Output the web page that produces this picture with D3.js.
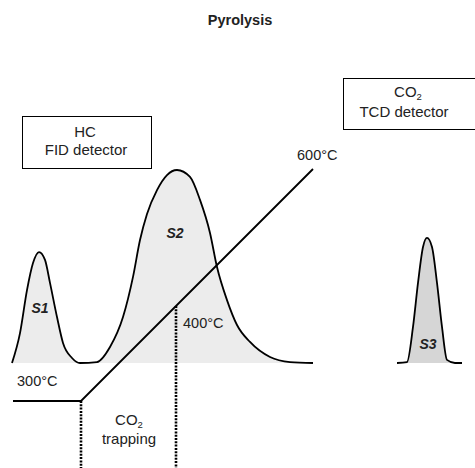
<!DOCTYPE html>
<html><head><meta charset="utf-8">
<script src="https://cdn.jsdelivr.net/npm/d3@7"></script>
<style>body{margin:0;background:#fff}svg{display:block;font-family:"Liberation Sans",Arial,sans-serif}</style>
</head><body><script>
// Data (time in arbitrary units, FID/TCD signal in % of S2 peak)
const hcTime   = [1.2,2.0,2.7,3.3,3.9,4.5,5.0,5.7,6.3,7.2,8.0,9.7,11.0,12.3,13.3,14.0,14.7,15.7,16.7,17.7,19.0,20.0,21.0,21.7,22.7,23.7,25.0,27.0,29.0,31.3];
const hcSignal = [0,15.5,37.8,51.8,57.5,53.4,41.5,23.8,10.4,2.6,0,0.5,8.3,23.8,44.6,63.7,77.2,89.6,97.4,100,96.4,84.5,67.4,49.7,32.6,19.7,10.9,3.1,0.5,0];
const co2Time   = [39.7,40.7,41.3,41.8,42.3,42.7,43.2,43.7,44.2,44.7,45.5,46.2];
const co2Signal = [0,0.5,18.7,41.5,60.1,64.8,60.1,41.5,18.7,1.6,0,0];
const tempTime = [1.3,8.1,31.3];
const tempC    = [300,300,600];
const markerTimes = [8.1,17.6];
const peakLabels = [{name:"S1",t:4.0,s:26},{name:"S2",t:17.5,s:65},{name:"S3",t:42.8,s:7}];
const tempLabels = [{text:"300°C",t:1.7,c:320},{text:"400°C",t:18.3,c:394},{text:"600°C",t:29.7,c:612}];

const W=475,H=468;
const svg=d3.select("body").append("svg").attr("width",W).attr("height",H);
const x=d3.scaleLinear().domain([0,47.5]).range([0,475]);
const y=d3.scaleLinear().domain([0,100]).range([363,170]);
const yT=d3.scaleLinear().domain([300,600]).range([401,169]);

// Title
svg.append("text").attr("x",240).attr("y",25).attr("text-anchor","middle")
  .attr("font-size",14.5).attr("font-weight","bold").attr("fill","#222").text("Pyrolysis");

// Peaks
const hc=hcTime.map((t,i)=>({t,s:hcSignal[i]}));
const co=co2Time.map((t,i)=>({t,s:co2Signal[i]}));
const area=d3.area().x(d=>x(d.t)).y0(y(0)).y1(d=>y(d.s)).curve(d3.curveMonotoneX);
const line=d3.line().x(d=>x(d.t)).y(d=>y(d.s)).curve(d3.curveMonotoneX);
svg.append("path").datum(hc).attr("d",area).attr("fill","#ececec");
svg.append("path").datum(co).attr("d",area).attr("fill","#d6d6d6");
svg.append("path").datum(hc).attr("d",line).attr("fill","none").attr("stroke","#000").attr("stroke-width",1.8);
svg.append("path").datum(co).attr("d",line).attr("fill","none").attr("stroke","#000").attr("stroke-width",1.8);

// Temperature program
const tp=tempTime.map((t,i)=>({t,c:tempC[i]}));
svg.append("path").datum(tp).attr("d",d3.line().x(d=>x(d.t)).y(d=>yT(d.c)))
  .attr("fill","none").attr("stroke","#000").attr("stroke-width",1.8);

// Marker dotted lines
const tempAt=t=>{for(let i=1;i<tempTime.length;i++){if(t<=tempTime[i]){const f=(t-tempTime[i-1])/(tempTime[i]-tempTime[i-1]);return tempC[i-1]+f*(tempC[i]-tempC[i-1]);}}return tempC[tempC.length-1];};
svg.selectAll(".mk").data(markerTimes).join("line")
  .attr("x1",d=>x(d)).attr("x2",d=>x(d)).attr("y1",d=>yT(tempAt(d))).attr("y2",H)
  .attr("stroke","#000").attr("stroke-width",2.6).attr("stroke-dasharray","2,1.3");

// Peak labels
svg.selectAll(".pl").data(peakLabels).join("text")
  .attr("x",d=>x(d.t)).attr("y",d=>y(d.s)).attr("text-anchor","middle")
  .attr("font-size",14).attr("font-weight","bold").attr("font-style","italic").attr("fill","#222")
  .text(d=>d.name);

// Temperature labels
svg.selectAll(".tl").data(tempLabels).join("text")
  .attr("x",d=>x(d.t)).attr("y",d=>yT(d.c)).attr("text-anchor","start")
  .attr("font-size",14.5).attr("fill","#222").text(d=>d.text);

// Boxes
function box(x0,y0,w,h){svg.append("rect").attr("x",x0+0.5).attr("y",y0+0.5).attr("width",w).attr("height",h)
  .attr("fill","#fff").attr("stroke","#000").attr("stroke-width",1);}
box(22,116,129,52);
box(343,78,140,51);
function co2(cx,by){const t=svg.append("text").attr("x",cx).attr("y",by).attr("text-anchor","middle").attr("font-size",15).attr("fill","#222");
  t.append("tspan").text("CO");t.append("tspan").attr("font-size",9.5).attr("dy",3).text("2");}
svg.append("text").attr("x",85).attr("y",137).attr("text-anchor","middle").attr("font-size",15).attr("fill","#222").text("HC");
svg.append("text").attr("x",86).attr("y",155).attr("text-anchor","middle").attr("font-size",15).attr("fill","#222").text("FID detector");
co2(408,97);
svg.append("text").attr("x",404).attr("y",117).attr("text-anchor","middle").attr("font-size",15).attr("fill","#222").text("TCD detector");
co2(129,425);
svg.append("text").attr("x",129).attr("y",444).attr("text-anchor","middle").attr("font-size",15).attr("fill","#222").text("trapping");
</script></body></html>
